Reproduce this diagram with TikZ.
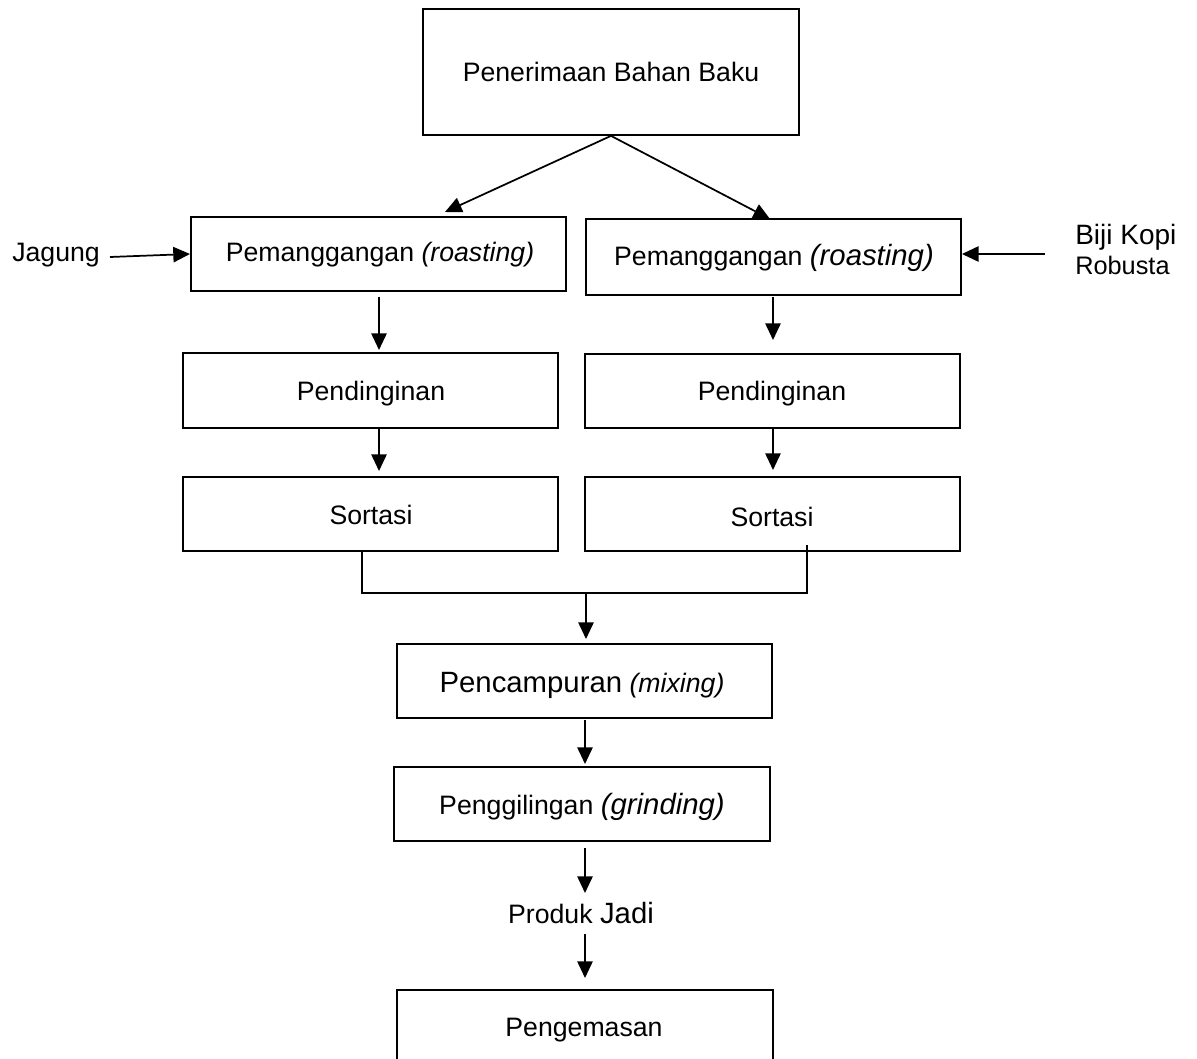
\documentclass[tikz,border=0pt]{standalone}
\usepackage{fontspec}
\setmainfont{Liberation Sans}
\usetikzlibrary{arrows.meta}
\begin{document}
\begin{tikzpicture}[x=0.75pt,y=-0.75pt,
  bx/.style={draw, line width=1.3pt, inner sep=0pt, minimum width=281.5pt, minimum height=56pt},
  arr/.style={line width=1.3pt, -{Triangle[length=12.5pt,width=11.5pt]}},
  ln/.style={line width=1.3pt},
  txt/.style={anchor=base, inner sep=0pt, font=\fontsize{20}{24}\selectfont},
  big/.style={font=\fontsize{21}{25}\selectfont}]
\useasboundingbox (0,0) rectangle (1197,1059);
% boxes
\node[bx, minimum width=282pt, minimum height=94.5pt] (top) at (611,72) {};
\node[bx, minimum height=55.5pt] (L1) at (378.5,254) {};
\node[bx, minimum height=57pt] (R1) at (773.5,257) {};
\node[bx] (L2) at (370.5,390.5) {};
\node[bx, minimum height=55.5pt] (R2) at (772.5,391) {};
\node[bx, minimum height=55.5pt] (L3) at (370.5,514) {};
\node[bx, minimum height=55.5pt] (R3) at (772.5,514) {};
\node[bx, minimum height=55.5pt] (mix) at (584.5,681) {};
\node[bx, minimum height=55.5pt] (grind) at (582,804) {};
\node[bx, minimum height=55.5pt] (pack) at (585,1027) {};
% texts
\node[txt] (tTop) at (611,82) {Penerimaan Bahan Baku};
\node[txt] (tL1) at (380,262) {Pemanggangan \textit{(roasting)}};
\node[txt] (tR1) at (774,266) {Pemanggangan \textit{\fontsize{22}{26}\selectfont(roasting)}};
\node[txt, anchor=base west] (jag) at (12,262) {Jagung};
\node[txt, anchor=base west, big] (biji) at (1075,245) {Biji Kopi};
\node[txt, anchor=base west, font=\fontsize{19}{23}\selectfont] (rob) at (1075,275) {Robusta};
\node[txt] (tL2) at (371,401) {Pendinginan};
\node[txt] (tR2) at (772,401) {Pendinginan};
\node[txt] (tL3) at (371,524) {Sortasi};
\node[txt] (tR3) at (772,526) {Sortasi};
\node[txt] (tMix) at (582,692) {{\fontsize{22}{26}\selectfont Pencampuran} \textit{(mixing)}};
\node[txt] (tGrind) at (582,814) {Penggilingan {\fontsize{22}{26}\selectfont\itshape (grinding)}};
\node[txt] (prod) at (581,923) {Produk {\fontsize{22}{26}\selectfont Jadi}};
\node[txt] (tPack) at (584,1036) {Pengemasan};
% coordinates for free ends
\coordinate (tipL) at (445,212);
\coordinate (tipR) at (770,219);
\coordinate (jagS) at (110,257);
\coordinate (bijiS) at (1045,254);
\coordinate (bijiE) at (962,254);
\coordinate (l1s) at (379,297); \coordinate (l1e) at (379,350);
\coordinate (r1s) at (773,297); \coordinate (r1e) at (773,340);
\coordinate (l2s) at (379,428); \coordinate (l2e) at (379,471);
\coordinate (r2s) at (773,428); \coordinate (r2e) at (773,470);
\coordinate (mL) at (362,551); \coordinate (mL2) at (362,593);
\coordinate (mR) at (807,545); \coordinate (mR2) at (807,593);
\coordinate (mC) at (586,593); \coordinate (mCe) at (586,639);
\coordinate (g1s) at (585,720); \coordinate (g1e) at (585,764);
\coordinate (p1s) at (585,848); \coordinate (p1e) at (585,893);
\coordinate (p2s) at (585,934); \coordinate (p2e) at (585,978);
% connectors
\draw[arr] (top.south) -- (tipL);
\draw[arr] (top.south) -- (tipR);
\draw[arr] (jagS) -- (L1.west);
\draw[arr] (bijiS) -- (bijiE);
\draw[arr] (l1s) -- (l1e);
\draw[arr] (r1s) -- (r1e);
\draw[arr] (l2s) -- (l2e);
\draw[arr] (r2s) -- (r2e);
\draw[ln] (mL) -- (mL2) -- (mR2) -- (mR);
\draw[arr] (mC) -- (mCe);
\draw[arr] (g1s) -- (g1e);
\draw[arr] (p1s) -- (p1e);
\draw[arr] (p2s) -- (p2e);
\end{tikzpicture}
\end{document}
